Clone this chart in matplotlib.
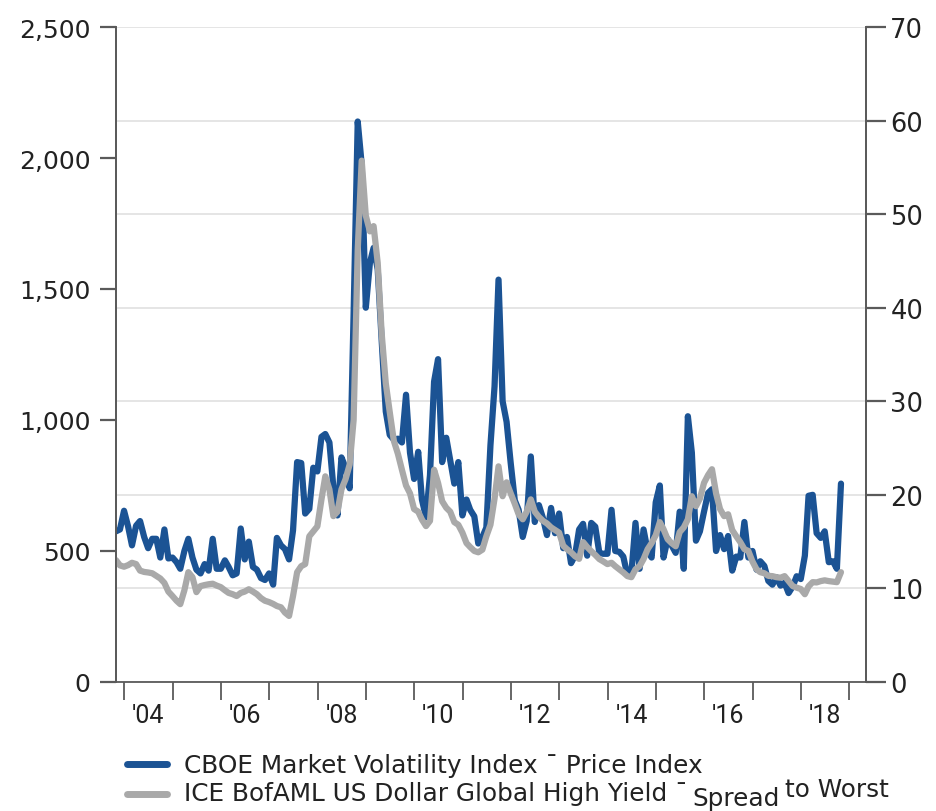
import numpy as np
import pandas as pd
import matplotlib
matplotlib.use("Agg")
import matplotlib.pyplot as plt
import matplotlib.dates as mdates
from matplotlib.lines import Line2D

# month-end observations, Oct 2003 .. Oct 2018
start_month = "2003-10-31"

# CBOE VIX, month-end close (right axis)
vix = [16.1, 16.3, 18.3,
       16.6, 14.6, 16.7, 17.2, 15.5, 14.3, 15.3, 15.3, 13.3, 16.3, 13.2, 13.3,
       12.8, 12.1, 14.0, 15.3, 13.3, 12.0, 11.6, 12.6, 11.9, 15.3, 12.1, 12.1,
       13.0, 12.3, 11.4, 11.6, 16.4, 13.1, 15.0, 12.3, 12.0, 11.1, 10.9, 11.6,
       10.4, 15.4, 14.6, 14.2, 13.1, 16.2, 23.5, 23.4, 18.0, 18.5, 22.9, 22.5,
       26.2, 26.5, 25.6, 20.8, 17.8, 24.0, 22.9, 20.7, 39.4, 59.9, 55.3, 40.0,
       44.8, 46.4, 44.1, 36.5, 28.9, 26.4, 25.9, 26.0, 25.6, 30.7, 24.5, 21.7,
       24.6, 19.5, 17.6, 22.1, 32.1, 34.5, 23.5, 26.1, 23.7, 21.2, 23.5, 17.8,
       19.5, 18.4, 17.7, 14.8, 15.5, 16.5, 25.3, 31.6, 43.0, 30.0, 27.8, 23.4,
       19.4, 18.4, 15.5, 17.2, 24.1, 17.1, 18.9, 17.5, 15.7, 18.6, 15.9, 18.0,
       14.3, 15.5, 12.7, 13.5, 16.3, 16.9, 13.5, 17.0, 16.6, 13.8, 13.7, 13.7,
       18.4, 14.0, 13.9, 13.4, 11.4, 11.6, 17.0, 12.1, 16.3, 14.0, 13.3, 19.2,
       21.0, 13.3, 15.3, 14.6, 13.8, 18.2, 12.1, 28.4, 24.5, 15.1, 16.1, 18.2,
       20.2, 20.6, 14.0, 15.7, 14.2, 15.6, 11.9, 13.4, 13.3, 17.1, 13.3, 14.0,
       12.0, 12.9, 12.4, 10.8, 10.4, 11.2, 10.3, 10.6, 9.5, 10.2, 11.3, 11.0,
       13.5, 19.9, 20.0, 15.9, 15.4, 16.1, 12.8, 12.9, 12.1, 21.2]

# ICE BofAML global high yield spread to worst, bp (left axis)
hy_spread = [465, 445, 440,
             446, 455, 450, 425, 420, 418, 415, 405, 395, 378, 345, 328,
             310, 297, 350, 419, 400, 343, 366, 370, 373, 375, 368, 362,
             350, 340, 335, 328, 340, 345, 354, 345, 335, 320, 310, 305,
             298, 290, 285, 265, 252, 328, 419, 442, 450, 556, 575, 594,
             697, 785, 735, 633, 650, 735, 774, 830, 1000, 1650, 1990, 1780,
             1720, 1740, 1600, 1330, 1140, 1030, 920, 870, 810, 750, 720, 660,
             650, 620, 595, 615, 810, 760, 690, 665, 650, 610, 600, 570,
             530, 515, 500, 495, 505, 556, 600, 700, 823, 709, 762, 720,
             680, 640, 621, 650, 697, 650, 630, 615, 605, 590, 580, 570,
             520, 507, 495, 480, 470, 534, 515, 499, 485, 469, 460, 450,
             455, 442, 430, 418, 404, 400, 430, 442, 469, 507, 530, 560,
             610, 583, 545, 530, 518, 572, 590, 621, 709, 671, 700, 760,
             790, 812, 720, 660, 633, 640, 580, 556, 534, 507, 500, 460,
             430, 419, 415, 405, 404, 400, 398, 404, 385, 366, 360, 355,
             335, 365, 381, 380, 385, 388, 385, 383, 381, 419]

left_ticks = [0, 500, 1000, 1500, 2000, 2500]
right_ticks = [0, 10, 20, 30, 40, 50, 60, 70]
label_years = [2004, 2006, 2008, 2010, 2012, 2014, 2016, 2018]

blue = "#1b5394"
grey = "#a9a9a9"
spine_col = "#5a5a5a"
txt_col = "#222222"

dates = pd.date_range(start_month, periods=len(vix), freq="ME")

fig = plt.figure(figsize=(9.36, 8.12), dpi=100)
ax = fig.add_axes([0.1239, 0.1589, 0.8013, 0.8066])
ax2 = ax.twinx()

# VIX on the right axis underneath, spread on top
ax.set_zorder(2)
ax.patch.set_visible(False)
ax2.set_zorder(1)

ax2.plot(dates, vix, color=blue, lw=4.5, solid_joinstyle="round", solid_capstyle="round")
ax.plot(dates, hy_spread, color=grey, lw=4.5, solid_joinstyle="round", solid_capstyle="round")

ax.set_ylim(0, 2500)
ax2.set_ylim(0, 70)
ax.set_xlim(pd.Timestamp("2003-10-31"), pd.Timestamp("2019-05-08"))

ax.set_yticks(left_ticks)
ax.set_yticklabels([f"{v:,}" for v in left_ticks])
ax2.set_yticks(right_ticks)
ax2.yaxis.grid(True, color="#e3e3e3", lw=1.3)
ax2.set_axisbelow(True)

# ticks at year boundaries, labels centred inside the even years
ax.xaxis.set_major_locator(mdates.YearLocator(1))
ax.xaxis.set_major_formatter(plt.NullFormatter())
minor_pos = [mdates.date2num(pd.Timestamp(f"{y}-07-02")) for y in label_years]
ax.set_xticks(minor_pos, minor=True)
ax.set_xticklabels(["'" + str(y)[2:] for y in label_years], minor=True,
                   fontsize=18, family="Roboto", color=txt_col)
ax.tick_params(axis="x", which="major", length=13, width=1.3, color=spine_col)
ax.tick_params(axis="x", which="minor", length=0, pad=15)

ax.tick_params(axis="y", length=11.5, width=1.6, color=spine_col, pad=7,
               labelsize=18, labelcolor=txt_col)
ax2.tick_params(axis="y", length=14.5, width=1.6, color=spine_col, pad=3,
                labelsize=18.5, labelcolor=txt_col)

for a in (ax, ax2):
    a.spines["top"].set_visible(False)
    for s in ("left", "right", "bottom"):
        a.spines[s].set_color(spine_col)
        a.spines[s].set_linewidth(1.3)
ax2.spines["bottom"].set_visible(False)

# legend below the plot, laid out by hand like the source
def fy(py):
    return 1 - py / 812

def fx(px):
    return px / 936

fig.add_artist(Line2D([fx(127), fx(167)], [fy(765)] * 2, color=blue, lw=5,
                      solid_capstyle="round", transform=fig.transFigure))
fig.add_artist(Line2D([fx(127), fx(167)], [fy(795)] * 2, color=grey, lw=5,
                      solid_capstyle="round", transform=fig.transFigure))
kw = dict(fontsize=17.8, va="baseline", color=txt_col, family="DejaVu Sans")
fig.text(fx(184), fy(773), "CBOE Market Volatility Index \u00af Price Index", **kw)
fig.text(fx(184), fy(801), "ICE BofAML US Dollar Global High Yield \u00af", **kw)
fig.text(fx(692), fy(806), "Spread", **kw)
fig.text(fx(785), fy(797), "to Worst", **kw)

fig.savefig("out.png", dpi=100, facecolor="white")
